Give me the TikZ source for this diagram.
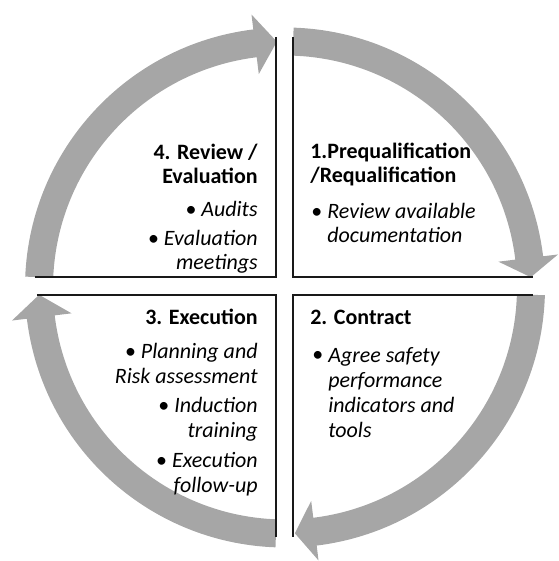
\documentclass[tikz,border=0pt]{standalone}
\usepackage{fontspec}
\setmainfont{Carlito}
\usetikzlibrary{positioning}
\definecolor{cyclegrey}{HTML}{A6A6A6}
\newcommand{\cyclesize}{\fontsize{12.5pt}{14.2pt}\selectfont}

% one grey band of the cycle: start angle, head base angle, tip angle
\newcommand{\cyclearrow}[3]{%
	\fill[cyclegrey] (#1:260) arc[start angle=#1,end angle=#2,radius=260]
		-- (#2:275) -- (#3:246) -- (#2:215) -- (#2:232)
		arc[start angle=#2,end angle=#1,radius=232] -- cycle;}

\tikzset{
	frame/.style={line width=1.7pt,black!90},
	headl/.style={font=\cyclesize\bfseries,inner sep=0pt,align=left,anchor=base west},
	headr/.style={font=\cyclesize\bfseries,inner sep=0pt,align=right,anchor=base east},
	iteml/.style={font=\cyclesize\itshape,inner sep=0pt,align=left,anchor=base west},
	itemr/.style={font=\cyclesize,inner sep=0pt,align=right,anchor=base east},
	dot/.style={font=\cyclesize,inner sep=0pt,anchor=base west}
}

\begin{document}
\begin{tikzpicture}[x=0.02cm,y=0.02cm]
		\useasboundingbox (-285,-273.5) rectangle (273,287.5);
		% the four arrows
		\cyclearrow{88.1}{6.9}{2.4}
		\cyclearrow{-1.7}{-83}{-87.7}
		\cyclearrow{-92.1}{-173.1}{-178.3}
		\cyclearrow{177.6}{97}{91.9}
		% quadrant frames
		\draw[frame] (-9,250.5) -- (-9,10.5) -- (-250,10.5);
		\draw[frame] (8,250.5) -- (8,10.5) -- (248,10.5);
		\draw[frame] (-248,-7.5) -- (-9,-7.5) -- (-9,-249.5);
		\draw[frame] (248,-7.5) -- (8,-7.5) -- (8,-249.5);
		% 1. top right (anchors sit on the last line)
		\node[headl] (pq) at (25,104.5) {1.Prequalification\\/Requalification};
		\node[dot] (pqd) at (26,68.5) {\textbullet};
		\node[iteml] (pqa) at (42,44.5) {Review available\\documentation};
		% 2. bottom right
		\node[headl] (ct) at (25,-37.5) {2. Contract};
		\node[dot] (ctd) at (27,-73.5) {\textbullet};
		\node[iteml] (cta) at (43,-149.5) {Agree safety\\performance\\indicators and\\tools};
		% 3. bottom left
		\node[headr] (ex) at (-27,-37.5) {3. Execution};
		\node[itemr] (exa) at (-27,-95.5) {\textbullet~\textit{Planning and}\\\textit{Risk assessment}};
		\node[itemr] (exb) at (-27,-149.5) {\textbullet~\textit{Induction}\\\textit{training}};
		\node[itemr] (exc) at (-27,-204.5) {\textbullet~\textit{Execution}\\\textit{follow-up}};
		% 4. top left
		\node[headr] (rv) at (-27,103.5) {4. Review /\\Evaluation};
		\node[itemr] (rva) at (-27,70.5) {\textbullet~\textit{Audits}};
		\node[itemr] (rvb) at (-27,17.5) {\textbullet~\textit{Evaluation}\\\textit{meetings}};
\end{tikzpicture}
\end{document}
